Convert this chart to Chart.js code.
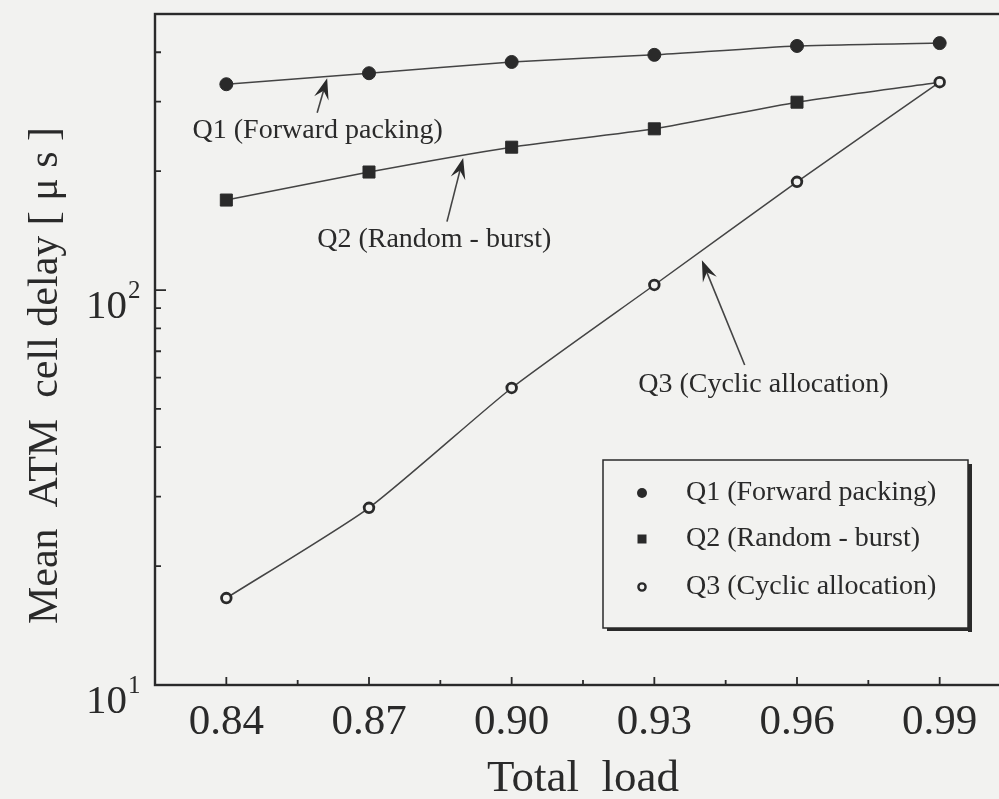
<!DOCTYPE html>
<html>
<head>
<meta charset="utf-8">
<script src="https://cdn.jsdelivr.net/npm/chart.js@4.4.1/dist/chart.umd.min.js"></script>
<style>
  html, body { margin: 0; padding: 0; background: #f2f2f0; overflow: hidden; }
  #wrap { width: 1030px; height: 799px; }
</style>
</head>
<body>
<div id="wrap"><canvas id="delay" width="1030" height="799"></canvas></div>
<script>
// Data (delay in microseconds, log axis)
const LOADS = [0.84, 0.87, 0.90, 0.93, 0.96, 0.99];
const Q1_DELAY = [332, 354, 378, 394, 415, 422];
const Q2_DELAY = [169, 199, 230, 256, 299, 336];
const Q3_DELAY = [16.6, 28.1, 56.5, 103, 188, 336];
const SERIES_LABELS = ['Q1 (Forward packing)', 'Q2 (Random - burst)', 'Q3 (Cyclic allocation)'];
const X_TICKS = [0.84, 0.87, 0.90, 0.93, 0.96, 0.99];
const Y_TICKS = [10, 100];

// callout labels with arrows, positions in data units [load, delay]
const CALLOUT_TEXT = [0, 1, 2].map(i => SERIES_LABELS[i]);
const CALLOUT_AT   = [[0.8329, 253], [0.8591, 134], [0.9266, 57.5]];
const CALLOUT_TAIL = [[0.8591, 281], [0.8864, 149], [0.9490, 64.6]];
const CALLOUT_TIP  = [[0.8612, 344], [0.8898, 216], [0.9400, 119]];

const INK = '#2a2a2a';
const LINE = '#444444';
const PAPER = '#f2f2f0';
const SERIF = '"Liberation Serif", "DejaVu Serif", serif';

function pts(ys) {
  return LOADS.map((x, i) => ({ x, y: ys[i] }));
}

// inner tick marks + plot frame
const frameAndTicks = {
  id: 'frameAndTicks',
  beforeDatasetsDraw(chart) {
    const { ctx, chartArea: a, scales: { x, y } } = chart;
    ctx.save();
    ctx.strokeStyle = INK;
    ctx.lineWidth = 1.8;
    ctx.beginPath();
    X_TICKS.forEach(v => {
      const px = x.getPixelForValue(v);
      ctx.moveTo(px, a.bottom); ctx.lineTo(px, a.bottom - 8);
      const m = v + 0.015;
      if (m < x.max - 0.002) {
        const pm = x.getPixelForValue(m);
        ctx.moveTo(pm, a.bottom); ctx.lineTo(pm, a.bottom - 5);
      }
    });
    for (let d = 1; d <= 1000; d *= 10) {
      for (let k = 1; k <= 9; k++) {
        const v = k * d;
        if (v <= y.min || v > y.max) continue;
        const py = y.getPixelForValue(v);
        ctx.moveTo(a.left, py); ctx.lineTo(a.left + (k === 1 ? 11 : 6), py);
      }
    }
    ctx.stroke();
    ctx.lineWidth = 2.4;
    ctx.strokeRect(a.left, a.top, a.right - a.left, a.bottom - a.top);

    // y tick labels as 10 with superscript exponent
    ctx.fillStyle = INK;
    ctx.textBaseline = 'middle';
    Y_TICKS.forEach(v => {
      const py = y.getPixelForValue(v);
      const exp = Math.round(Math.log10(v));
      ctx.font = '41px ' + SERIF;
      ctx.textAlign = 'right';
      ctx.fillText('10', a.left - 28, py + 17);
      ctx.font = '25px ' + SERIF;
      ctx.textAlign = 'left';
      ctx.fillText(String(exp), a.left - 27, py + 1);
    });

    // y axis title
    ctx.font = '42px ' + SERIF;
    ctx.textAlign = 'center';
    ctx.translate(46, (a.top + a.bottom) / 2 + 26);
    ctx.rotate(-Math.PI / 2);
    ctx.fillText('Mean  ATM  cell delay [ \u03bc s ]', 0, 0);
    ctx.restore();
  }
};

function arrow(ctx, x0, y0, x1, y1) {
  const dx = x1 - x0, dy = y1 - y0;
  const len = Math.hypot(dx, dy);
  const ux = dx / len, uy = dy / len;
  const nx = -uy, ny = ux;
  const L = 21, W = 7.5;
  ctx.beginPath();
  ctx.moveTo(x0, y0);
  ctx.lineTo(x1 - ux * L * 0.6, y1 - uy * L * 0.6);
  ctx.stroke();
  ctx.beginPath();
  ctx.moveTo(x1, y1);
  ctx.lineTo(x1 - ux * L + nx * W, y1 - uy * L + ny * W);
  ctx.lineTo(x1 - ux * L * 0.62, y1 - uy * L * 0.62);
  ctx.lineTo(x1 - ux * L - nx * W, y1 - uy * L - ny * W);
  ctx.closePath();
  ctx.fill();
}

// callouts and boxed legend
const annotations = {
  id: 'annotations',
  afterDatasetsDraw(chart) {
    const { ctx, chartArea: a, scales: { x, y } } = chart;
    ctx.save();
    ctx.fillStyle = INK;
    ctx.strokeStyle = LINE;
    ctx.lineWidth = 1.6;
    ctx.font = '28px ' + SERIF;
    ctx.textBaseline = 'middle';
    ctx.textAlign = 'left';
    CALLOUT_TEXT.forEach((t, i) => {
      ctx.fillText(t, x.getPixelForValue(CALLOUT_AT[i][0]), y.getPixelForValue(CALLOUT_AT[i][1]));
      arrow(ctx,
        x.getPixelForValue(CALLOUT_TAIL[i][0]), y.getPixelForValue(CALLOUT_TAIL[i][1]),
        x.getPixelForValue(CALLOUT_TIP[i][0]), y.getPixelForValue(CALLOUT_TIP[i][1]));
    });

    // legend box
    const bx = a.left + 448, by = a.top + 446, bw = 365, bh = 168;
    ctx.fillStyle = INK;
    ctx.fillRect(bx + bw, by + 4, 4, bh);
    ctx.fillRect(bx + 4, by + bh, bw, 3);
    ctx.strokeStyle = INK;
    ctx.lineWidth = 1.5;
    ctx.strokeRect(bx, by, bw, bh);

    const rows = [33, 79, 127];
    chart.data.datasets.forEach((ds, i) => {
      const cy = by + rows[i];
      const mx = bx + 39;
      ctx.fillStyle = INK;
      if (i === 0) {
        ctx.beginPath(); ctx.arc(mx, cy, 5, 0, Math.PI * 2); ctx.fill();
      } else if (i === 1) {
        ctx.fillRect(mx - 4.5, cy - 4.5, 9, 9);
      } else {
        ctx.beginPath(); ctx.arc(mx, cy, 3.6, 0, Math.PI * 2);
        ctx.fillStyle = PAPER; ctx.fill();
        ctx.lineWidth = 2.4; ctx.strokeStyle = INK; ctx.stroke();
      }
      ctx.fillStyle = INK;
      ctx.fillText(ds.label, bx + 83, cy);
    });
    ctx.restore();
  }
};

const lineStyle = {
  borderColor: LINE,
  borderWidth: 1.5,
  tension: 0.2,
  fill: false,
  clip: false
};

new Chart(document.getElementById('delay').getContext('2d'), {
  type: 'line',
  data: {
    datasets: [
      {
        ...lineStyle,
        label: SERIES_LABELS[0],
        data: pts(Q1_DELAY),
        pointStyle: 'circle',
        pointRadius: 6.5,
        pointBackgroundColor: INK,
        pointBorderColor: INK,
        pointBorderWidth: 1
      },
      {
        ...lineStyle,
        label: SERIES_LABELS[1],
        data: pts(Q2_DELAY),
        pointStyle: 'rect',
        pointRadius: LOADS.map((_, i) => i === LOADS.length - 1 ? 0 : 8.5),
        pointBackgroundColor: INK,
        pointBorderColor: INK,
        pointBorderWidth: 1
      },
      {
        ...lineStyle,
        label: SERIES_LABELS[2],
        data: pts(Q3_DELAY),
        pointStyle: 'circle',
        pointRadius: 4.8,
        pointBackgroundColor: PAPER,
        pointBorderColor: INK,
        pointBorderWidth: 2.8,
        order: -1
      }
    ]
  },
  options: {
    responsive: false,
    devicePixelRatio: 1,
    animation: false,
    layout: { padding: { top: 14, right: 19, left: 0, bottom: 0 } },
    plugins: {
      legend: { display: false },
      tooltip: { enabled: false }
    },
    scales: {
      x: {
        type: 'linear',
        min: 0.825,
        max: 1.005,
        afterBuildTicks: s => { s.ticks = X_TICKS.map(v => ({ value: v })); },
        afterFit: s => { s.height = 114; },
        grid: { display: false, drawTicks: false },
        border: { display: false },
        ticks: {
          padding: 12,
          color: INK,
          font: { family: SERIF, size: 43 },
          callback: v => v.toFixed(2)
        },
        title: {
          display: true,
          text: 'Total  load',
          color: INK,
          font: { family: SERIF, size: 45, lineHeight: 0.8 },
          padding: { top: 0, bottom: 2 }
        }
      },
      y: {
        type: 'logarithmic',
        min: 10,
        max: 500,
        afterBuildTicks: s => { s.ticks = Y_TICKS.map(v => ({ value: v })); },
        afterFit: s => { s.width = 155; },
        grid: { display: false, drawTicks: false },
        border: { display: false },
        ticks: { display: false }
      }
    }
  },
  plugins: [frameAndTicks, annotations]
});
</script>
</body>
</html>
